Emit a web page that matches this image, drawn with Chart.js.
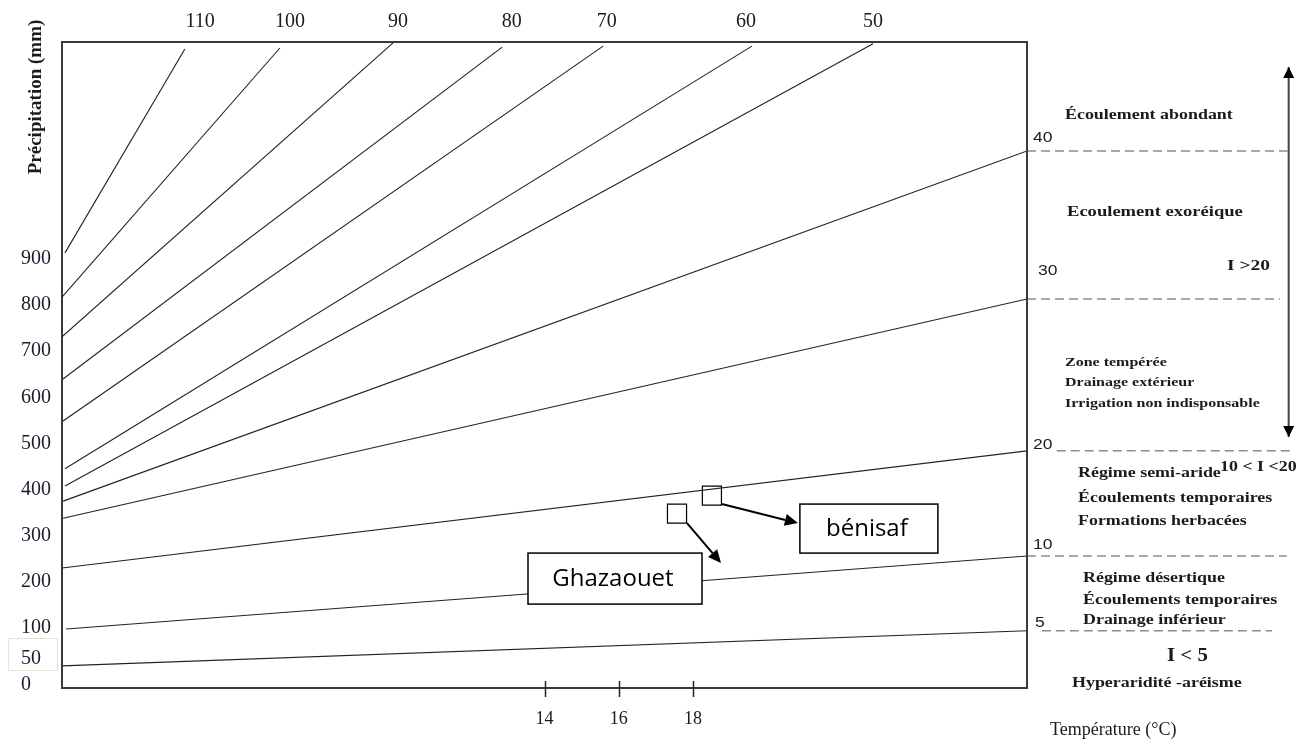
<!DOCTYPE html>
<html lang="fr">
<head>
<meta charset="utf-8">
<title>Abaque de De Martonne</title>
<script src="https://cdn.jsdelivr.net/npm/chart.js@4.4.1/dist/chart.umd.min.js"></script>
<style>
  html, body { margin: 0; padding: 0; background: #fff; }
  #wrap { width: 1312px; height: 742px; }
</style>
</head>
<body>
<div id="wrap"><canvas id="chart" width="1312" height="742"></canvas></div>
<script>
const isoIndex  = [110, 100, 90, 80, 70, 60, 50, 40, 30, 20, 10, 5];
const isoStartT = [1.08, 1, 1, 1, 1, 1.08, 1.08, 1.03, 1.03, 1, 1.11, 1];
const isoStartP = [913, 817, 731, 638, 547, 445, 408, 375, 338, 230, 98, 18];
const isoEndT   = [4.31, 6.87, 9.92, 12.86, 15.58, 19.59, 22.85, 27, 27, 27, 27, 27];
const isoEndP   = [1355, 1357, 1368, 1359, 1361, 1361, 1366, 1134, 813, 484, 256, 94];

// Dashed class limits on the right (I = 40, 30, 20, 10, 5)
const limitIndex  = [40, 30, 20, 10, 5];
const limitStartT = [27, 27, 27.8, 27, 27.4];
const limitEndT   = [34.03, 33.82, 34.17, 34.0, 33.6];
const limitP      = [1134, 813, 484, 256, 94];

// Range arrow "I > 20" (tip to tip)
const arrowT = 34.05;
const arrowP = [1316, 514];

// Stations
const stations = ['bénisaf', 'Ghazaouet'];
const stationT = [18.51, 17.57];
const stationP = [387, 348];

// Axis ticks
const xTicks = [14, 16, 18];
const yTickPos    = [-23, 33, 100, 200, 300, 400, 500, 600, 700, 800, 900];
const yTickLabels = ['0', '50', '100', '200', '300', '400', '500', '600', '700', '800', '900'];

// Top isoline labels (temperature where each label sits)
const topLabels = ['110', '100', '90', '80', '70', '60', '50'];
const topLabelT = [4.72, 7.14, 10.05, 13.12, 15.68, 19.43, 22.85];

const SERIF = "'Liberation Serif', 'Times New Roman', serif";
const SANS = "'Liberation Sans', Arial, sans-serif";

// Text helper with horizontal stretch (the source text is wide)
function txt(ctx, s, x, y, font, sx, align) {
    ctx.save();
    ctx.translate(x, y);
    ctx.scale(sx || 1, 1);
    ctx.font = font;
    ctx.textAlign = align || 'left';
    ctx.textBaseline = 'middle';
    ctx.fillStyle = '#1b1b1b';
    ctx.fillText(s, 0, 0);
    ctx.restore();
}

function arrow(ctx, x1, y1, x2, y2, len, half) {
    const ang = Math.atan2(y2 - y1, x2 - x1);
    const bx = x2 - Math.cos(ang) * len, by = y2 - Math.sin(ang) * len;
    ctx.beginPath();
    ctx.moveTo(x1, y1);
    ctx.lineTo(bx, by);
    ctx.stroke();
    ctx.beginPath();
    ctx.moveTo(x2, y2);
    ctx.lineTo(bx + Math.sin(ang) * half, by - Math.cos(ang) * half);
    ctx.lineTo(bx - Math.sin(ang) * half, by + Math.cos(ang) * half);
    ctx.closePath();
    ctx.fill();
}

function head(ctx, x, tipY, dir) {
    ctx.beginPath();
    ctx.moveTo(x, tipY);
    ctx.lineTo(x - 5.5, tipY + dir * 11);
    ctx.lineTo(x + 5.5, tipY + dir * 11);
    ctx.closePath();
    ctx.fill();
}

// Station label boxes, offsets from the station marker
const boxLayout = [
    { dx: 88, dy: 8.5, w: 138, h: 49, ax1: 10, ay1: 8.5, ax2: 86, ay2: 27.5 },
    { dx: -149, dy: 39.5, w: 174, h: 51, ax1: 10, ay1: 9.5, ax2: 44, ay2: 49.5 }
];

const decor = {
    id: 'decor',
    afterDatasetsDraw(chart) {
        const { ctx, chartArea: a, scales: { x, y } } = chart;
        ctx.save();

        // frame
        ctx.strokeStyle = '#3a3a3a';
        ctx.lineWidth = 2;
        ctx.strokeRect(a.left, a.top, a.right - a.left, a.bottom - a.top);

        // faint box left around the "50" label in the source
        ctx.strokeStyle = '#e6e2da';
        ctx.lineWidth = 1;
        ctx.strokeRect(8.5, 638.5, 49, 32);

        // x tick marks crossing the axis
        ctx.strokeStyle = '#222';
        ctx.lineWidth = 1.5;
        xTicks.forEach(t => {
            const px = Math.round(x.getPixelForValue(t)) + 0.5;
            ctx.beginPath();
            ctx.moveTo(px, a.bottom - 7);
            ctx.lineTo(px, a.bottom + 9);
            ctx.stroke();
        });

        // double arrow heads
        ctx.fillStyle = '#000';
        const ax = x.getPixelForValue(arrowT);
        head(ctx, ax, y.getPixelForValue(arrowP[0]), 1);
        head(ctx, ax, y.getPixelForValue(arrowP[1]), -1);

        // isoline labels above the frame
        topLabels.forEach((s, i) => {
            txt(ctx, s, x.getPixelForValue(topLabelT[i]), 22, '20px ' + SERIF, 1, 'center');
        });

        // isoline labels on the right edge
        const rl = [['40', 1033, 138], ['30', 1038, 271], ['20', 1033, 445], ['10', 1033, 545], ['5', 1035, 623]];
        rl.forEach(r => txt(ctx, r[0], r[1], r[2], '14px ' + SANS, 1.25));

        // class descriptions
        const b14 = 'bold 14px ' + SERIF;
        const b12 = 'bold 12.5px ' + SERIF;
        txt(ctx, 'Écoulement abondant', 1065, 115, b14, 1.28);
        txt(ctx, 'Ecoulement exoréique', 1067, 212, 'bold 14.5px ' + SERIF, 1.28);
        txt(ctx, 'I >20', 1227, 266, 'bold 15px ' + SERIF, 1.3);
        txt(ctx, 'Zone tempérée', 1065, 363, b12, 1.28);
        txt(ctx, 'Drainage extérieur', 1065, 383, b12, 1.28);
        txt(ctx, 'Irrigation non indisponsable', 1065, 404, b12, 1.28);
        txt(ctx, 'Régime semi-aride', 1078, 473, b14, 1.28);
        txt(ctx, '10 < I <20', 1220, 467, b14, 1.28);
        txt(ctx, 'Écoulements temporaires', 1078, 498, b14, 1.28);
        txt(ctx, 'Formations herbacées', 1078, 521, b14, 1.28);
        txt(ctx, 'Régime désertique', 1083, 578, b14, 1.28);
        txt(ctx, 'Écoulements temporaires', 1083, 600, b14, 1.28);
        txt(ctx, 'Drainage inférieur', 1083, 620, b14, 1.28);
        txt(ctx, 'I < 5', 1167, 656, 'bold 19px ' + SERIF, 1.1);
        txt(ctx, 'Hyperaridité -aréisme', 1072, 683, b14, 1.28);

        // axis titles
        ctx.save();
        ctx.translate(36, 97);
        ctx.rotate(-Math.PI / 2);
        txt(ctx, 'Précipitation (mm)', 0, 0, 'bold 19px ' + SERIF, 1, 'center');
        ctx.restore();
        txt(ctx, 'Température (°C)', 1050, 730, '18px ' + SERIF, 1);

        // station label boxes and arrows
        ctx.strokeStyle = '#000';
        ctx.fillStyle = '#000';
        stations.forEach((name, i) => {
            const px = x.getPixelForValue(stationT[i]);
            const py = y.getPixelForValue(stationP[i]);
            const L = boxLayout[i];
            ctx.lineWidth = 2;
            arrow(ctx, px + L.ax1, py + L.ay1, px + L.ax2, py + L.ay2, 13, 6);
            ctx.fillStyle = '#fff';
            ctx.fillRect(px + L.dx, py + L.dy, L.w, L.h);
            ctx.lineWidth = 1.5;
            ctx.strokeRect(px + L.dx, py + L.dy, L.w, L.h);
            ctx.fillStyle = '#000';
            ctx.save();
            ctx.font = "24px 'Open Sans', sans-serif";
            ctx.textAlign = 'center';
            ctx.textBaseline = 'middle';
            ctx.fillText(name, px + L.dx + L.w / 2 - 2, py + L.dy + L.h / 2 + 1);
            ctx.restore();
        });

        ctx.restore();
    }
};

const datasets = [];
isoIndex.forEach((v, i) => {
    datasets.push({
        label: 'I = ' + v,
        data: [{ x: isoStartT[i], y: isoStartP[i] }, { x: isoEndT[i], y: isoEndP[i] }],
        showLine: true,
        borderColor: '#222',
        borderWidth: 1.1,
        pointRadius: 0
    });
});
limitIndex.forEach((v, i) => {
    datasets.push({
        label: 'limite ' + v,
        data: [{ x: limitStartT[i], y: limitP[i] }, { x: limitEndT[i], y: limitP[i] }],
        showLine: true,
        borderColor: '#8c8c8c',
        borderWidth: 1.5,
        borderDash: [9, 5],
        pointRadius: 0,
        clip: false
    });
});
datasets.push({
    label: 'I > 20',
    data: arrowP.map(p => ({ x: arrowT, y: p })),
    showLine: true,
    borderColor: '#444',
    borderWidth: 2,
    pointRadius: 0,
    clip: false
});
datasets.push({
    label: 'stations',
    data: stations.map((s, i) => ({ x: stationT[i], y: stationP[i] })),
    showLine: false,
    pointStyle: 'rect',
    pointRadius: 13.5,
    pointBackgroundColor: '#fff',
    pointBorderColor: '#000',
    pointBorderWidth: 1.2
});

new Chart(document.getElementById('chart'), {
    type: 'scatter',
    data: { datasets: datasets },
    plugins: [decor],
    options: {
        responsive: false,
        animation: false,
        devicePixelRatio: 1,
        layout: { padding: { left: 21, top: 42, right: 285, bottom: 0 } },
        plugins: { legend: { display: false }, tooltip: { enabled: false } },
        scales: {
            x: {
                type: 'linear',
                min: 1,
                max: 27,
                afterBuildTicks: s => { s.ticks = xTicks.map(v => ({ value: v })); },
                afterFit: s => { s.height = 54; },
                grid: { display: false, drawTicks: false },
                border: { display: false },
                ticks: {
                    autoSkip: false,
                    maxRotation: 0,
                    padding: 20,
                    color: '#1b1b1b',
                    font: { family: SERIF, size: 18 }
                }
            },
            y: {
                type: 'linear',
                min: -30,
                max: 1370,
                afterBuildTicks: s => { s.ticks = yTickPos.map(v => ({ value: v })); },
                afterFit: s => { s.width = 41; },
                grid: { display: false, drawTicks: false },
                border: { display: false },
                ticks: {
                    autoSkip: false,
                    crossAlign: 'far',
                    padding: 0,
                    color: '#1e1b2e',
                    font: { family: SERIF, size: 20 },
                    callback: v => yTickLabels[yTickPos.indexOf(v)]
                }
            }
        }
    }
});
</script>
</body>
</html>
